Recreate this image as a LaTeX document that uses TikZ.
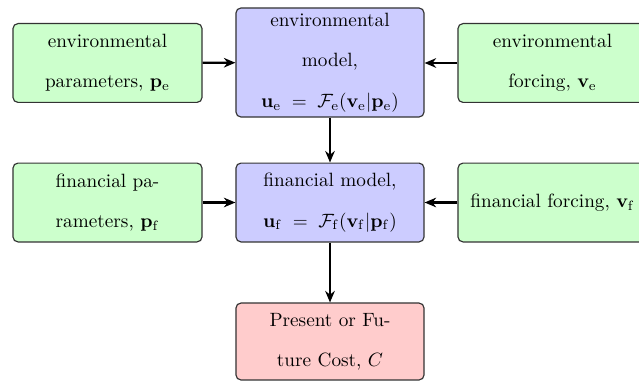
\documentclass[tikz,border=0pt]{standalone}
\usetikzlibrary{arrows.meta}
\definecolor{gfill}{HTML}{CCFFCC}
\definecolor{bfill}{HTML}{CCCCFF}
\definecolor{rfill}{HTML}{FFCCCC}
\definecolor{bord}{HTML}{333333}
\begin{document}
\begin{tikzpicture}[x=0.52pt,y=-0.52pt,
  box/.style={draw=bord,line width=0.6pt,rounded corners=2.6pt,align=center,inner sep=0pt,font=\fontsize{10}{12}\selectfont},
  gbox/.style={box,fill=gfill,minimum width=98.3pt,minimum height=41pt},
  bbox/.style={box,fill=bfill,minimum width=97.8pt},
  rbox/.style={box,fill=rfill,minimum width=97.8pt,minimum height=40pt},
  arr/.style={-{Stealth[length=6pt,width=5pt]},line width=1.2pt,black}]
\useasboundingbox (0,0) rectangle (639,381);
\clip (0,0) rectangle (639,381);
\node[gbox] (ep) at (107.5,63) {environmental\\[9pt] parameters, $\mathbf{p}_{\mathrm{e}}$};
\node[bbox,minimum height=56.7pt] (em) at (330,62.5) {environmental\\[9pt] model,\\[9pt] $\mathbf{u}_{\mathrm{e}} \;=\; \mathcal{F}_{\mathrm{e}}(\mathbf{v}_{\mathrm{e}}|\mathbf{p}_{\mathrm{e}})$};
\node[gbox] (ef) at (552.5,63) {environmental\\[9pt] forcing, $\mathbf{v}_{\mathrm{e}}$};
\node[gbox] (fp) at (107.5,202.5) {financial pa-\\[9pt] rameters, $\mathbf{p}_{\mathrm{f}}$};
\node[bbox,minimum height=41pt] (fm) at (330,202.5) {financial model,\\[9pt] $\mathbf{u}_{\mathrm{f}} \;=\; \mathcal{F}_{\mathrm{f}}(\mathbf{v}_{\mathrm{f}}|\mathbf{p}_{\mathrm{f}})$};
\node[gbox] (ff) at (552.5,202.5) {\phantom{x}};
\node[anchor=west,font=\fontsize{10}{12}\selectfont,inner sep=0pt] (fft) at (470,202.5) {financial forcing, $\mathbf{v}_{\mathrm{f}}$};
\node[rbox] (cost) at (330,341.5) {Present or Fu-\\[9pt] ture Cost, $C$};
\draw[arr] (ep) -- (em);
\draw[arr] (ef) -- (em.east |- ef);
\draw[arr] (em) -- (fm);
\draw[arr] (fp) -- (fm);
\draw[arr] (ff) -- (fm);
\draw[arr] (fm) -- (cost);
\end{tikzpicture}
\end{document}
